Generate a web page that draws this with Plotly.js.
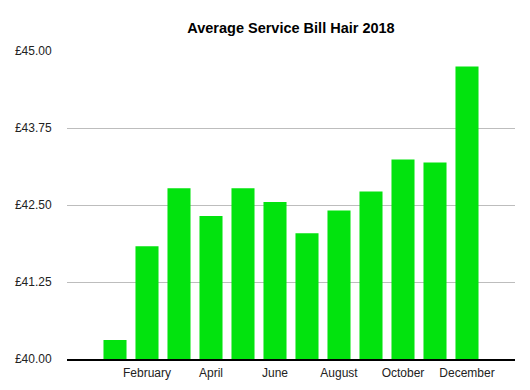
<!DOCTYPE html>
<html>
<head>
<meta charset="utf-8">
<script src="https://cdn.plot.ly/plotly-3.0.1.min.js"></script>
<style>html,body{margin:0;padding:0;background:#fff;}#chart{width:530px;height:390px;}</style>
</head>
<body>
<div id="chart"></div>
<script>
const months = ["January","February","March","April","May","June","July","August","September","October","November","December"];
const avgBill = [40.31, 41.83, 42.77, 42.32, 42.77, 42.55, 42.04, 42.41, 42.72, 43.24, 43.19, 44.75];
const xTickLabels = ["February","April","June","August","October","December"];
const yTicks = [40, 41.25, 42.5, 43.75, 45];

const trace = {
  type: "bar",
  x: months,
  y: avgBill,
  marker: {color: "#02E30E", line: {width: 0}},
  hoverinfo: "x+y"
};

const layout = {
  width: 530,
  height: 390,
  margin: {l: 67, r: 15, t: 51, b: 31, pad: 0},
  paper_bgcolor: "#ffffff",
  plot_bgcolor: "#ffffff",
  font: {family: "Liberation Sans, Arial, sans-serif", size: 12, color: "#222"},
  title: {
    text: "<b>Average Service Bill Hair 2018</b>",
    font: {family: "Liberation Sans, Arial, sans-serif", size: 14.5, color: "#000"},
    x: 0.549, xanchor: "center", y: 0.928, yanchor: "middle"
  },
  bargap: 0.28,
  showlegend: false,
  xaxis: {
    type: "category",
    range: [-1.5, 12.5],
    tickmode: "array",
    tickvals: xTickLabels,
    ticktext: xTickLabels,
    showgrid: false,
    showline: true,
    linecolor: "#000",
    linewidth: 1.5,
    ticks: "outside",
    ticklen: 2,
    tickcolor: "rgba(0,0,0,0)",
    tickfont: {size: 12, color: "#222"},
    zeroline: false
  },
  yaxis: {
    range: [40, 45],
    tickmode: "array",
    tickvals: yTicks,
    ticktext: yTicks.map(v => "£" + v.toFixed(2)),
    showgrid: true,
    gridcolor: "#bdbdbd",
    gridwidth: 1,
    zeroline: false,
    showline: false,
    ticks: "outside",
    ticklen: 12,
    tickcolor: "rgba(0,0,0,0)",
    tickfont: {size: 12, color: "#222"}
  }
};

Plotly.newPlot("chart", [trace], layout, {displayModeBar: false, staticPlot: true});
</script>
</body>
</html>
